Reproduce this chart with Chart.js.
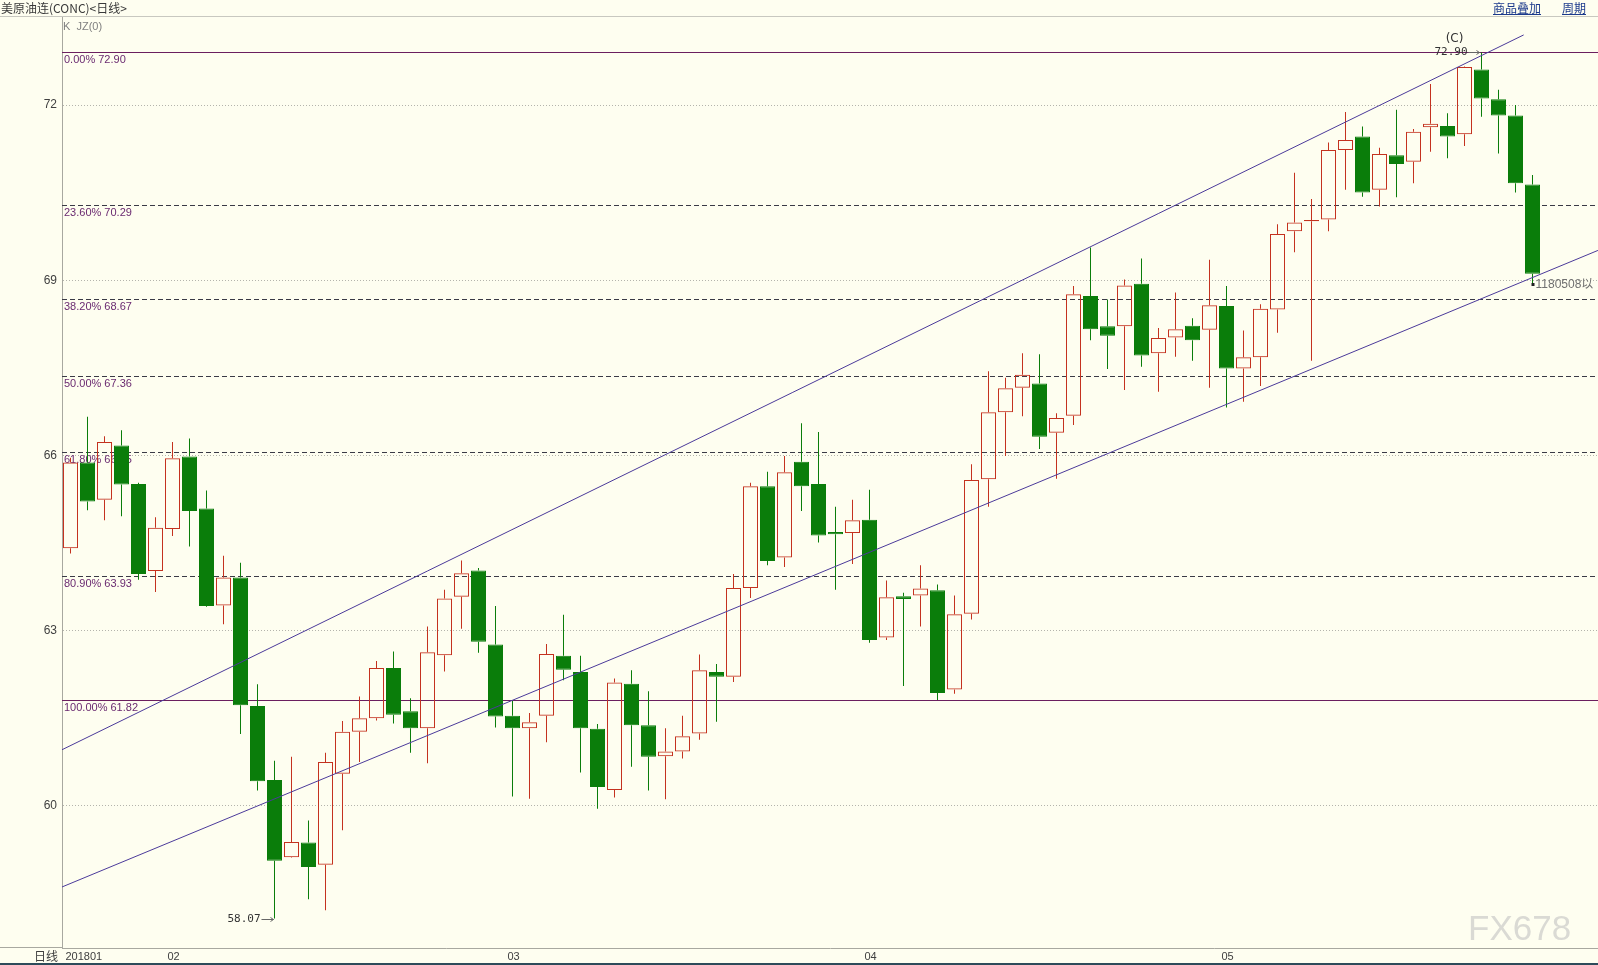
<!DOCTYPE html>
<html>
<head>
<meta charset="utf-8">
<title>美原油连(CONC)&lt;日线&gt;</title>
<script src="https://cdn.jsdelivr.net/npm/chart.js@4.4.1/dist/chart.umd.min.js"></script>
<style>
  html, body { margin: 0; padding: 0; background: #fefef0; overflow: hidden; }
  canvas { display: block; }
</style>
</head>
<body>
<canvas id="kChart" width="1598" height="965"></canvas>
<script>
const openPrices = [64.41, 65.88, 65.24, 66.17, 65.51, 64.02, 64.74, 65.98, 65.09, 63.43,
    63.91, 61.71, 60.44, 59.12, 59.37, 58.99, 60.55, 61.27, 61.50, 62.36,
    61.62, 61.33, 62.58, 63.58, 64.03, 62.76, 61.54, 61.33, 61.54, 62.57,
    62.29, 61.32, 60.27, 62.09, 61.38, 60.85, 60.93, 61.24, 62.29, 62.21,
    63.73, 65.47, 64.25, 65.89, 65.51, 64.69, 64.67, 64.90, 62.88, 63.59,
    63.60, 63.69, 61.99, 63.29, 65.59, 66.74, 67.16, 67.23, 66.39, 66.68,
    68.73, 68.21, 68.21, 68.94, 67.75, 68.02, 68.22, 68.15, 68.56, 67.49,
    67.68, 68.50, 69.84, 70.01, 70.04, 71.23, 71.46, 70.55, 71.14, 71.03,
    71.62, 71.64, 71.50, 72.61, 72.10, 71.82, 70.64];
const highPrices = [65.96, 66.66, 66.33, 66.43, 65.53, 64.94, 66.23, 66.29, 65.40, 64.28,
    64.16, 62.08, 60.77, 60.84, 59.75, 60.91, 61.45, 61.87, 62.48, 62.64,
    61.84, 63.07, 63.70, 64.20, 64.07, 63.42, 61.80, 61.59, 62.77, 63.27,
    62.57, 61.40, 62.18, 62.32, 61.96, 61.33, 61.54, 62.59, 62.43, 63.97,
    65.53, 65.72, 65.99, 66.55, 66.40, 65.12, 65.24, 65.41, 63.86, 63.65,
    64.12, 63.79, 63.60, 65.85, 67.44, 67.33, 67.75, 67.73, 66.72, 68.90,
    69.56, 68.67, 69.01, 69.37, 68.18, 68.79, 68.35, 69.35, 68.90, 68.14,
    68.59, 69.96, 70.84, 70.39, 71.36, 71.88, 71.63, 71.27, 71.92, 71.59,
    72.36, 71.86, 72.66, 72.90, 72.26, 72.00, 70.80];
const lowPrices = [64.32, 65.06, 64.89, 64.96, 63.87, 63.66, 64.62, 64.44, 63.41, 63.11,
    61.23, 60.26, 58.07, 59.11, 58.40, 58.21, 59.58, 60.75, 61.46, 61.41,
    60.91, 60.73, 62.30, 63.03, 62.62, 61.34, 60.16, 60.12, 61.09, 62.15,
    60.57, 59.95, 60.14, 60.67, 60.26, 60.11, 60.81, 61.13, 61.44, 62.12,
    63.56, 64.12, 64.09, 65.05, 64.51, 63.70, 64.14, 62.79, 62.84, 62.05,
    63.07, 61.81, 61.92, 63.19, 65.12, 65.99, 66.67, 66.11, 65.60, 66.52,
    67.97, 67.48, 67.12, 67.52, 67.09, 67.69, 67.62, 67.16, 66.82, 66.92,
    67.19, 68.10, 69.48, 67.62, 69.84, 70.55, 70.43, 70.26, 70.42, 70.66,
    71.20, 71.09, 71.30, 71.80, 71.17, 70.50, 68.94];
const closePrices = [65.88, 65.21, 66.23, 65.50, 63.97, 64.76, 65.95, 65.05, 63.42, 63.91,
    61.72, 60.42, 59.06, 59.38, 58.95, 60.75, 61.27, 61.50, 62.36, 61.56,
    61.33, 62.63, 63.55, 63.98, 62.81, 61.53, 61.33, 61.43, 62.60, 62.33,
    61.33, 60.32, 62.11, 61.38, 60.84, 60.93, 61.19, 62.32, 62.21, 63.73,
    65.47, 64.19, 65.71, 65.47, 64.63, 64.65, 64.89, 62.84, 63.57, 63.54,
    63.72, 61.93, 63.28, 65.58, 66.74, 67.15, 67.38, 66.32, 66.64, 68.76,
    68.16, 68.05, 68.91, 67.71, 68.01, 68.16, 67.97, 68.57, 67.49, 67.68,
    68.51, 69.79, 69.99, 70.03, 71.23, 71.40, 70.50, 71.16, 70.99, 71.54,
    71.68, 71.46, 72.65, 72.11, 71.82, 70.66, 69.11];

const monthTicks = [0, 6, 26, 47, 68];
const monthLabels = ['201801', '02', '03', '04', '05'];
const priceTicks = [60, 63, 66, 69, 72];

const fibPercents = ['0.00%', '23.60%', '38.20%', '50.00%', '61.80%', '80.90%', '100.00%'];
const fibLevels = [72.90, 70.29, 68.67, 67.36, 66.05, 63.93, 61.82];

const upperChannelX = [-0.5, 85.48];
const upperChannelY = [60.96, 73.20];
const lowerChannelX = [-0.5, 89.85];
const lowerChannelY = [58.61, 69.51];

const BG = '#fefef0';
const UP = '#c4321f';
const DOWN = '#0a7d0a';

const isUp = closePrices.map((c, i) => c >= openPrices[i]);

const bodyData = openPrices.map((o, i) => ({ x: i, y: [o, closePrices[i]] }));
const upperWickData = openPrices.map((o, i) => ({ x: i, y: [Math.max(o, closePrices[i]), highPrices[i]] }));
const lowerWickData = openPrices.map((o, i) => ({ x: i, y: [lowPrices[i], Math.min(o, closePrices[i])] }));

const candleColors = isUp.map(up => up ? UP : DOWN);

function drawText(ctx, text, x, y, font, color, align, baseline) {
    ctx.font = font;
    ctx.fillStyle = color;
    ctx.textAlign = align || 'left';
    ctx.textBaseline = baseline || 'middle';
    ctx.fillText(text, x, y);
}

function drawArrow(ctx, x1, x2, y, color) {
    ctx.strokeStyle = color;
    ctx.lineWidth = 1;
    ctx.beginPath();
    ctx.moveTo(x1, y + 0.5);
    ctx.lineTo(x2, y + 0.5);
    ctx.moveTo(x2 - 3, y - 2 + 0.5);
    ctx.lineTo(x2, y + 0.5);
    ctx.lineTo(x2 - 3, y + 2 + 0.5);
    ctx.stroke();
}

const decorPlugin = {
    id: 'decor',
    beforeDraw(chart) {
        const ctx = chart.ctx;
        const w = chart.width;
        const h = chart.height;
        ctx.save();
        ctx.fillStyle = BG;
        ctx.fillRect(0, 0, w, h);

        drawText(ctx, '美原油连(CONC)<日线>', 1, 8, '12px "Noto Sans CJK SC"', '#3a3a3a');
        ctx.fillStyle = '#c8c8c0';
        ctx.fillRect(0, 16, w, 1);

        drawText(ctx, '商品叠加', 1493, 8, '12px "Noto Sans CJK SC"', '#1c3a8c');
        drawText(ctx, '周期', 1562, 8, '12px "Noto Sans CJK SC"', '#1c3a8c');
        ctx.fillStyle = '#1c3a8c';
        ctx.fillRect(1493, 14, 48, 1);
        ctx.fillRect(1562, 14, 24, 1);

        drawText(ctx, 'K  JZ(0)', 63, 27, '11px "Liberation Sans"', '#808080');

        ctx.fillStyle = '#a8a8a0';
        ctx.fillRect(0, 947, 62, 1);
        drawText(ctx, '日线', 34, 956, '12px "Noto Sans CJK SC"', '#404040');
        ctx.fillStyle = '#2d4b5a';
        ctx.fillRect(0, 963, w, 2);
        ctx.restore();
    },
    beforeDatasetsDraw(chart) {
        const ctx = chart.ctx;
        const area = chart.chartArea;
        const yScale = chart.scales.y;
        ctx.save();
        fibLevels.forEach((level, k) => {
            const y = Math.round(yScale.getPixelForValue(level)) + 0.5;
            const solid = k === 0 || k === fibLevels.length - 1;
            ctx.strokeStyle = solid ? '#6b1f5f' : '#3a3a46';
            ctx.lineWidth = 1;
            ctx.setLineDash(solid ? [] : [5, 3]);
            ctx.beginPath();
            ctx.moveTo(area.left, y);
            ctx.lineTo(area.right, y);
            ctx.stroke();
            drawText(ctx, fibPercents[k] + ' ' + level.toFixed(2), area.left + 2, y + 7,
                '11px "Liberation Sans"', '#6a2a70');
        });
        ctx.restore();
    },
    afterDatasetsDraw(chart) {
        const ctx = chart.ctx;
        const xScale = chart.scales.x;
        const yScale = chart.scales.y;
        ctx.save();

        const lowIdx = lowPrices.indexOf(Math.min(...lowPrices));
        const lx = xScale.getPixelForValue(lowIdx);
        const ly = Math.round(yScale.getPixelForValue(lowPrices[lowIdx]));
        drawText(ctx, lowPrices[lowIdx].toFixed(2), lx - 14, ly, '11px "DejaVu Sans Mono"', '#333333', 'right');
        drawArrow(ctx, lx - 13, lx - 1, ly, '#666666');

        const highIdx = highPrices.indexOf(Math.max(...highPrices));
        const hx = xScale.getPixelForValue(highIdx);
        const hy = Math.round(yScale.getPixelForValue(highPrices[highIdx]));
        drawText(ctx, highPrices[highIdx].toFixed(2), hx - 14, hy, '11px "DejaVu Sans Mono"', '#333333', 'right');
        drawArrow(ctx, hx - 13, hx - 2, hy, '#666666');
        drawText(ctx, '(C)', hx - 27, hy - 13, '12px "DejaVu Sans"', '#333333', 'center');

        const last = lowPrices.length - 1;
        const ex = xScale.getPixelForValue(last);
        const ey = Math.round(yScale.getPixelForValue(lowPrices[last]));
        ctx.fillStyle = '#222222';
        ctx.fillRect(ex - 1, ey - 1, 3, 3);
        drawText(ctx, '1180508以', ex + 3, ey + 1, '12px "Liberation Sans", "Noto Sans CJK SC"', '#707070');

        drawText(ctx, 'FX678', 1468, 930, '35px "Liberation Sans"', '#dadad4');
        ctx.restore();
    }
};

function renderChart() {
    const ctx = document.getElementById('kChart').getContext('2d');
    Chart.defaults.font.family = '"Liberation Sans", sans-serif';

    window.kChart = new Chart(ctx, {
        type: 'bar',
        data: {
            datasets: [
                {
                    type: 'line',
                    data: upperChannelX.map((x, i) => ({ x, y: upperChannelY[i] })),
                    borderColor: '#4b3a9a',
                    borderWidth: 1,
                    pointRadius: 0,
                    fill: false,
                    order: 0,
                },
                {
                    type: 'line',
                    data: lowerChannelX.map((x, i) => ({ x, y: lowerChannelY[i] })),
                    borderColor: '#4b3a9a',
                    borderWidth: 1,
                    pointRadius: 0,
                    fill: false,
                    order: 0,
                },
                {
                    data: bodyData,
                    backgroundColor: isUp.map(up => up ? 'rgba(0,0,0,0)' : DOWN),
                    borderColor: candleColors,
                    borderWidth: 1,
                    borderSkipped: false,
                    barThickness: 15,
                    grouped: false,
                    inflateAmount: 0,
                    order: 1,
                },
                {
                    data: upperWickData,
                    backgroundColor: candleColors,
                    borderWidth: 0,
                    barThickness: 1,
                    grouped: false,
                    inflateAmount: 0,
                    order: 2,
                },
                {
                    data: lowerWickData,
                    backgroundColor: candleColors,
                    borderWidth: 0,
                    barThickness: 1,
                    grouped: false,
                    inflateAmount: 0,
                    order: 2,
                },
            ],
        },
        options: {
            responsive: false,
            animation: false,
            events: [],
            layout: { padding: { top: 17, right: 0, left: 0, bottom: 0 } },
            plugins: {
                legend: { display: false },
                tooltip: { enabled: false },
            },
            scales: {
                x: {
                    type: 'linear',
                    min: -0.5,
                    max: 89.853,
                    offset: false,
                    grid: { display: false, offset: false, drawTicks: false },
                    border: { display: true, color: '#a8a8a0' },
                    afterBuildTicks: (scale) => { scale.ticks = monthTicks.map(v => ({ value: v })); },
                    afterFit: (scale) => { scale.height = 17; },
                    ticks: {
                        autoSkip: false,
                        maxRotation: 0,
                        align: 'start',
                        labelOffset: -5,
                        padding: 2,
                        color: '#404040',
                        font: { size: 11 },
                        callback: (value) => {
                            const k = monthTicks.indexOf(value);
                            return k >= 0 ? monthLabels[k] : '';
                        },
                    },
                },
                y: {
                    type: 'linear',
                    min: 57.565,
                    max: 73.507,
                    grid: { color: '#b4b4ac', lineWidth: 1, drawTicks: false },
                    border: { display: true, color: '#a8a8a0', dash: [1, 2] },
                    afterBuildTicks: (scale) => { scale.ticks = priceTicks.map(v => ({ value: v })); },
                    afterFit: (scale) => { scale.width = 62; },
                    ticks: {
                        padding: 5,
                        color: '#404040',
                        font: { size: 12 },
                        callback: (value) => String(value),
                    },
                },
            },
        },
        plugins: [decorPlugin],
    });
}

document.addEventListener('DOMContentLoaded', renderChart);
</script>
</body>
</html>
